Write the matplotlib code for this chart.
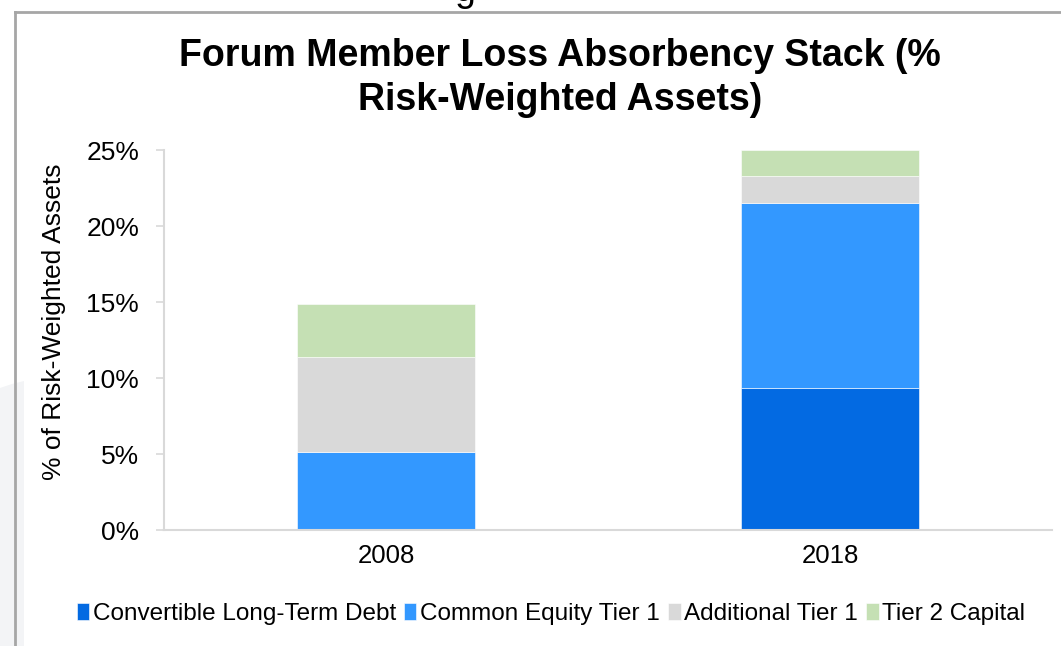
import matplotlib
matplotlib.use("Agg")
import matplotlib.pyplot as plt
import numpy as np
from matplotlib.patches import Polygon
from matplotlib.lines import Line2D

plt.rcParams['font.family'] = ['Liberation Sans', 'DejaVu Sans']

# data (% of RWA)
years = ['2008', '2018']
cltd = [0.0, 9.35]
cet1 = [5.1, 12.15]
at1 = [6.25, 1.8]
tier2 = [3.55, 1.7]

series_names = ['Convertible Long-Term Debt', 'Common Equity Tier 1', 'Additional Tier 1', 'Tier 2 Capital']
series_colors = ['#036ae2', '#3398ff', '#d9d9d9', '#c5e0b4']
series_vals = [cltd, cet1, at1, tier2]

W, H = 1061, 646
fig = plt.figure(figsize=(W / 100, H / 100), dpi=100)

# background bits: faint watermark shape on the left and the gray frame
fig.add_artist(Polygon([(0, 1 - 388 / H), (12 / W, 1 - 384 / H), (24 / W, 1 - 381 / H),
                        (24 / W, 0), (0, 0)], closed=True,
                       transform=fig.transFigure, facecolor='#f3f4f6', edgecolor='none', zorder=0))
fig.add_artist(Line2D([15 / W, 15 / W], [0, 1 - 12 / H], transform=fig.transFigure,
                      color='#a6a6a6', lw=2, zorder=1))
fig.add_artist(Line2D([15 / W, 1], [1 - 12 / H, 1 - 12 / H], transform=fig.transFigure,
                      color='#a6a6a6', lw=2, zorder=1))
# descender of text from above, cut off by the crop
fig.text(465 / W, 1 + 9 / H, 'g', fontsize=27, ha='center', va='center', color='black')

ax = fig.add_axes([164 / W, 1 - 530 / H, (1052 - 164) / W, (530 - 150) / H])

x = np.arange(len(years))
bottom = np.zeros(len(years))
for name, col, vals in zip(series_names, series_colors, series_vals):
    ax.bar(x, vals, width=0.4, bottom=bottom, color=col, label=name,
           edgecolor='white', linewidth=0.4)
    bottom += np.array(vals)

ax.set_xlim(-0.5, 1.5)
ax.set_ylim(0, 25)
ax.set_yticks([0, 5, 10, 15, 20, 25])
ax.set_yticklabels(['0%', '5%', '10%', '15%', '20%', '25%'])
ax.set_xticks(x)
ax.set_xticklabels(years)
ax.tick_params(axis='y', labelsize=19, length=6, width=1.2, color='#d9d9d9', pad=12)
ax.tick_params(axis='x', labelsize=18.5, length=0, pad=10)
for s in ['top', 'right']:
    ax.spines[s].set_visible(False)
for s in ['left', 'bottom']:
    ax.spines[s].set_color('#d9d9d9')
    ax.spines[s].set_linewidth(1.5)

ax.set_ylabel('% of Risk-Weighted Assets', fontsize=19)
ax.yaxis.set_label_coords((66 - 164) / 888, (530 - 322) / 380)

fig.text(560 / W, 1 - 78 / H, 'Forum Member Loss Absorbency Stack (%\nRisk-Weighted Assets)',
         ha='center', va='center', fontsize=27, fontweight='bold', linespacing=1.25)

fig.legend(loc='center', bbox_to_anchor=(551 / W, 1 - 614 / H), ncol=4, frameon=False,
           fontsize=17.5, handlelength=0.5, handleheight=0.7, handletextpad=0.15,
           columnspacing=0.35)

fig.savefig('out.png', dpi=100)
